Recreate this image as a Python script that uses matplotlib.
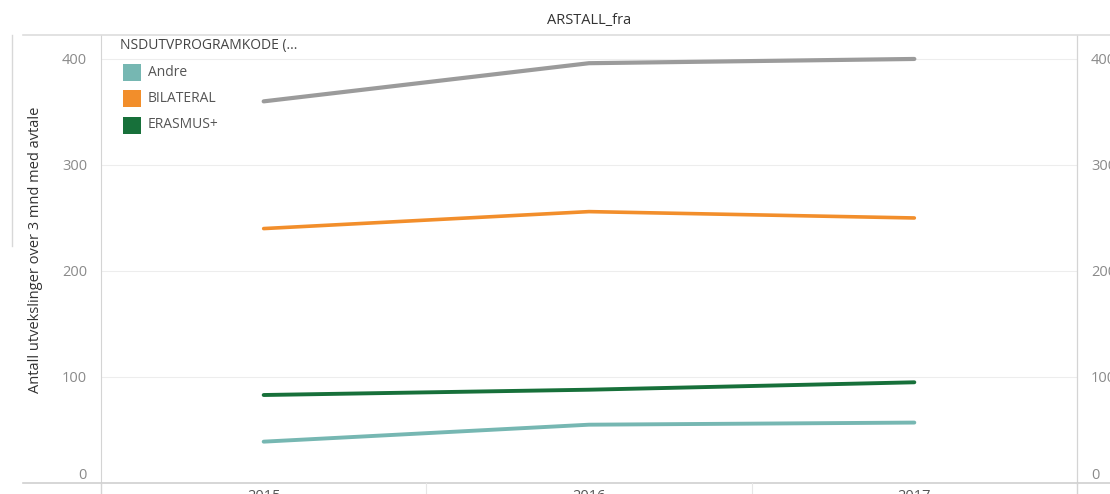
import numpy as np
import matplotlib.pyplot as plt
from matplotlib.lines import Line2D

# Data
years = ["2015", "2016", "2017"]
andre = [39, 55, 57]
bilateral = [240, 256, 250]
erasmus = [83, 88, 95]
other = [360, 396, 400]   # grey series, not in the legend

series_names = ["Andre", "BILATERAL", "ERASMUS+"]
colors = ["#76b7b2", "#f28e2b", "#17703a"]
grey = "#9b9b9b"

plt.rcParams['font.family'] = ['Open Sans', 'DejaVu Sans']

W, H = 1110, 494
fig = plt.figure(figsize=(W / 100, H / 100), dpi=100)

def px(x0, y0, x1, y1):
    # convert pixel box (top-left origin) to figure fraction
    return [x0 / W, 1 - y1 / H, (x1 - x0) / W, (y1 - y0) / H]

ax = fig.add_axes(px(101, 35, 1077, 483))
x = np.arange(len(years))

ax.plot(x, other, color=grey, lw=3.0, solid_capstyle='round', zorder=3)
ax.plot(x, bilateral, color=colors[1], lw=2.6, solid_capstyle='round', zorder=3)
ax.plot(x, erasmus, color=colors[2], lw=2.8, solid_capstyle='round', zorder=3)
ax.plot(x, andre, color=colors[0], lw=2.8, solid_capstyle='round', zorder=3)

ax.set_xlim(-0.5, 2.5)
ax.set_ylim(0, 422.6)
ax.set_yticks([0, 100, 200, 300, 400])
ax.yaxis.grid(True, color="#ededed", lw=0.8)
ax.set_axisbelow(True)

for s in ['top', 'bottom']:
    ax.spines[s].set_visible(False)
ax.spines['left'].set_color("#d4d4d4")
ax.spines['right'].set_color("#d4d4d4")

ax.tick_params(axis='y', length=0, pad=10, labelsize=10.5, labelcolor="#8a8a8a")
ax.set_xticks(x)
ax.set_xticklabels(years)
ax.tick_params(axis='x', length=0, pad=4, labelsize=10.5, labelcolor="#555555")
for lbl in ax.get_yticklabels():
    if lbl.get_text() == "0":
        lbl.set_verticalalignment('bottom')

ax2 = ax.twinx()
ax2.set_ylim(ax.get_ylim())
ax2.set_yticks([0, 100, 200, 300, 400])
ax2.tick_params(axis='y', length=0, pad=10, labelsize=10.5, labelcolor="#8a8a8a")
for s in ['top', 'bottom', 'left']:
    ax2.spines[s].set_visible(False)
ax2.spines['right'].set_color("#d4d4d4")
for lbl in ax2.get_yticklabels():
    if lbl.get_text() == "0":
        lbl.set_verticalalignment('bottom')

ax.set_ylabel("Antall utvekslinger over 3 mnd med avtale", fontsize=10.5, color="#333333")
ax.yaxis.set_label_coords(-(101 - 43) / 976, 0.52)

# frame lines around the pane (header and bottom border)
fig.add_artist(Line2D([23 / W, 1], [1 - 35 / H] * 2, color="#dddddd", lw=1.2))
fig.add_artist(Line2D([23 / W, 1], [1 - 483 / H] * 2, color="#d0d0d0", lw=1.2))
fig.add_artist(Line2D([101 / W] * 2, [1 - 483 / H, 1 - 494 / H], color="#d4d4d4", lw=1))
fig.add_artist(Line2D([1077 / W] * 2, [1 - 483 / H, 1 - 494 / H], color="#d4d4d4", lw=1))
for bx in [426, 752]:
    fig.add_artist(Line2D([bx / W] * 2, [1 - 483 / H, 1 - 494 / H], color="#e6e6e6", lw=0.8))
fig.add_artist(Line2D([12 / W] * 2, [1 - 35 / H, 1 - 246 / H], color="#d8d8d8", lw=1))

fig.text(589 / W, 1 - 20 / H, "ARSTALL_fra", ha='center', va='center', fontsize=10.5, color="#333333")

# legend
fig.text(120 / W, 1 - 45 / H, "NSDUTVPROGRAMKODE (...", ha='left', va='center', fontsize=10, color="#444444")
for i, (name, c) in enumerate(zip(series_names, colors)):
    yc = 72 + i * 26.5
    fig.patches.append(plt.Rectangle((123 / W, 1 - (yc + 9) / H), 18 / W, 17 / H,
                                     transform=fig.transFigure, facecolor=c, edgecolor='none'))
    fig.text(148 / W, 1 - yc / H, name, ha='left', va='center', fontsize=10, color="#555555")

fig.savefig("out.png", dpi=100)
